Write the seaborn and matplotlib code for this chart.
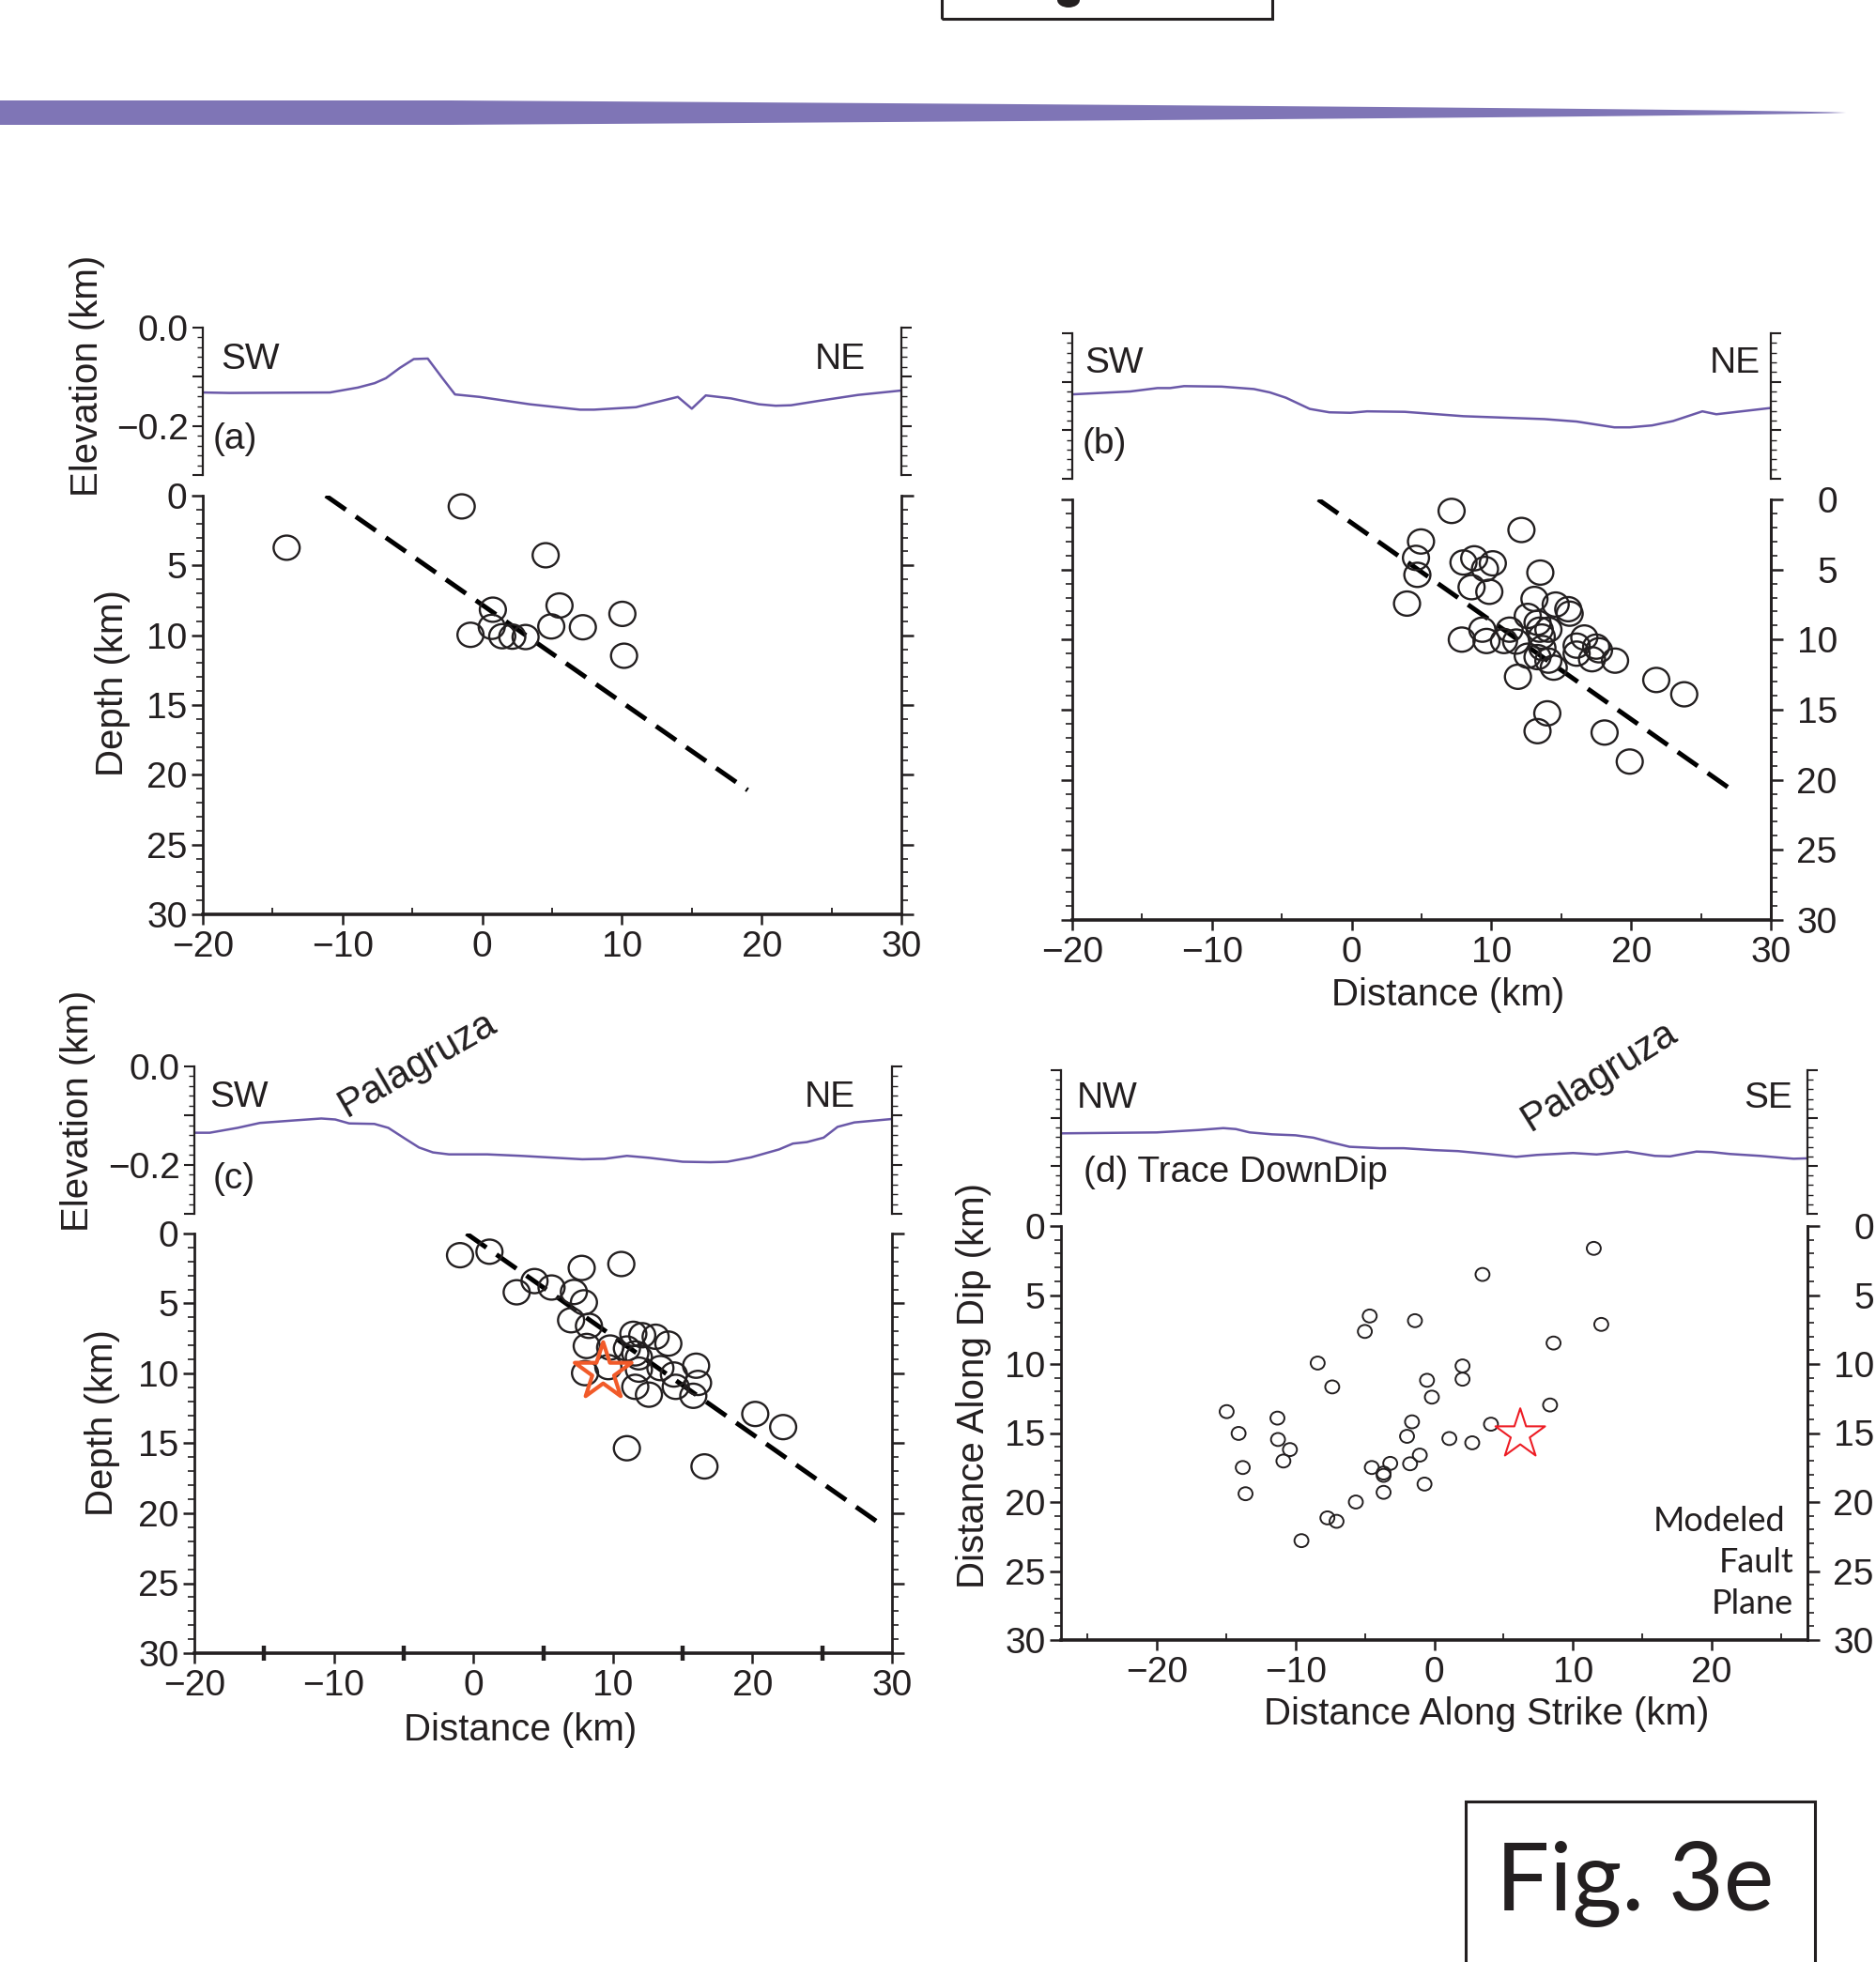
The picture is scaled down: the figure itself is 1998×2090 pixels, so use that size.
import numpy as np
import matplotlib
matplotlib.use("Agg")
import matplotlib.pyplot as plt
import seaborn as sns
from matplotlib.ticker import MultipleLocator, FuncFormatter
from matplotlib.patches import Polygon, Rectangle, Ellipse
from matplotlib.path import Path
from matplotlib.transforms import Affine2D

# ---- topography profiles (distance km, elevation km) ----
ELEV_A_X = [-20, -18.1, -10.9, -8.9, -7.7, -6.9, -5.9, -4.9, -3.9, -2.9, -1.95, -0.2,
            3.4, 7.0, 8.0, 11.0, 14.0, 15.0, 16.0, 17.8, 19.8, 21.0, 22.1, 24.1, 26.9, 30]
ELEV_A_Z = [-0.132, -0.133, -0.132, -0.122, -0.113, -0.103, -0.082, -0.064, -0.063, -0.101,
            -0.136, -0.141, -0.156, -0.167, -0.167, -0.162, -0.141, -0.165, -0.138, -0.144,
            -0.156, -0.159, -0.158, -0.149, -0.137, -0.128]

ELEV_B_X = [-20, -15.85, -13.9, -13.0, -12.0, -9.3, -7.0, -5.85, -4.7, -3.0, -1.6, -0.1,
            1.1, 3.8, 8.0, 13.8, 16.1, 18.8, 19.9, 21.5, 23.0, 25.1, 26.1, 30]
ELEV_B_Z = [-0.126, -0.120, -0.113, -0.113, -0.109, -0.110, -0.115, -0.122, -0.133, -0.156,
            -0.163, -0.164, -0.161, -0.162, -0.171, -0.177, -0.182, -0.194, -0.194, -0.190,
            -0.181, -0.161, -0.167, -0.154]

ELEV_C_X = [-20, -18.9, -16.9, -15.3, -12.9, -10.9, -9.9, -8.9, -7.1, -6.1, -4.9, -3.9, -2.9,
            -1.75, 1.0, 3.4, 7.8, 9.4, 11.0, 12.6, 15.0, 17.0, 18.2, 19.9, 21.9, 22.9, 23.9,
            25.1, 26.1, 27.3, 30]
ELEV_C_Z = [-0.135, -0.135, -0.125, -0.115, -0.110, -0.106, -0.108, -0.116, -0.117, -0.125,
            -0.147, -0.165, -0.175, -0.179, -0.179, -0.182, -0.189, -0.188, -0.182, -0.186,
            -0.194, -0.195, -0.194, -0.185, -0.169, -0.157, -0.154, -0.145, -0.123, -0.114,
            -0.107]

ELEV_D_X = [-27, -20, -17.0, -15.2, -14.3, -13.3, -11.7, -10.0, -8.7, -7.4, -6.1, -3.9, -2.2,
            0, 1.7, 3.9, 5.9, 7.4, 10.0, 11.7, 13.9, 15.9, 17.0, 18.9, 20.0, 21.3, 23.5, 25.9, 27]
ELEV_D_Z = [-0.132, -0.130, -0.125, -0.121, -0.123, -0.130, -0.134, -0.136, -0.141, -0.151,
            -0.160, -0.163, -0.163, -0.167, -0.169, -0.175, -0.181, -0.177, -0.173, -0.176,
            -0.170, -0.179, -0.180, -0.170, -0.171, -0.175, -0.179, -0.185, -0.184]

# ---- hypocentres (distance km, depth km) ----
QUAKE_A_X = [-14.0, -1.47, 4.54, 5.53, 10.03, 4.94, 7.2, 0.76, 0.68, -0.84, 1.43, 2.15, 3.1, 10.15]
QUAKE_A_D = [3.73, 0.77, 4.27, 7.87, 8.47, 9.37, 9.43, 8.17, 9.4, 9.97, 10.07, 10.1, 10.13, 11.47]

QUAKE_B_X = [7.15, 12.15, 4.96, 4.6, 4.7, 3.96, 8.0, 8.77, 9.54, 10.1, 13.5, 8.58, 9.85, 13.08,
             14.6, 15.5, 15.6, 12.6, 13.3, 13.46, 14.08, 9.35, 11.3, 7.88, 9.65, 10.9, 11.77,
             13.6, 13.65, 12.6, 13.3, 14.08, 14.46, 16.65, 16.1, 16.1, 17.5, 17.7, 17.2, 18.85,
             11.9, 21.8, 23.8, 14.0, 13.3, 18.1, 19.9]
QUAKE_B_D = [0.82, 2.18, 3.0, 4.17, 5.38, 7.43, 4.5, 4.2, 4.96, 4.56, 5.22, 6.26, 6.59, 7.1,
             7.5, 7.83, 8.15, 8.31, 8.8, 9.29, 9.29, 9.29, 9.29, 10.0, 10.1, 10.1, 10.14,
             9.78, 10.6, 11.15, 11.25, 11.5, 12.0, 9.85, 10.43, 11.0, 10.5, 10.76, 11.4, 11.5,
             12.65, 12.88, 13.9, 15.26, 16.53, 16.63, 18.7]

QUAKE_C_X = [-0.96, 1.15, 7.76, 10.6, 4.38, 3.1, 5.6, 7.2, 7.92, 7.0, 8.28, 8.12, 9.8, 11.46,
             12.1, 13.06, 13.97, 11.0, 11.6, 11.86, 11.86, 13.4, 15.96, 14.37, 14.5, 16.1,
             15.76, 11.6, 12.58, 8.0, 9.67, 20.2, 22.2, 11.0, 16.56]
QUAKE_C_D = [1.55, 1.3, 2.46, 2.18, 3.4, 4.2, 3.86, 4.18, 4.92, 6.2, 6.6, 8.04, 8.15, 7.17,
             7.27, 7.38, 7.87, 8.22, 8.57, 8.85, 9.73, 9.62, 9.45, 10.08, 10.96, 10.68, 11.6,
             10.96, 11.52, 9.98, 9.55, 12.9, 13.84, 15.35, 16.65]

QUAKE_D_X = [11.5, 3.48, -4.65, -5.0, -1.39, 12.04, 8.6, -8.4, 2.04, 2.04, -0.52, -7.35, -0.17,
             8.35, -14.96, -11.3, -1.6, 4.09, -14.1, -11.26, -1.96, 1.09, 2.74, -10.4, -1.04,
             -10.87, -3.17, -1.74, -13.8, -4.5, -3.65, -3.65, -0.7, -13.6, -3.65, -5.65, -7.7,
             -7.04, -9.57]
QUAKE_D_D = [1.62, 3.51, 6.52, 7.64, 6.86, 7.13, 8.48, 9.93, 10.14, 11.1, 11.18, 11.66, 12.4,
             12.97, 13.45, 13.92, 14.19, 14.36, 15.03, 15.47, 15.24, 15.4, 15.71, 16.2, 16.6,
             17.03, 17.2, 17.23, 17.5, 17.5, 17.9, 18.07, 18.7, 19.4, 19.3, 20.0, 21.15, 21.4,
             22.8]

# mainshock
STAR_C_X, STAR_C_D = [9.3], [9.9]
STAR_D_X, STAR_D_D = [6.2], [15.1]

# modeled fault traces
FAULT_A_X, FAULT_A_D = [-11.2, 19.0], [0.0, 21.1]
FAULT_B_X, FAULT_B_D = [-2.4, 27.6], [0.0, 21.0]
FAULT_C_X, FAULT_C_D = [-0.5, 29.5], [0.0, 21.0]

FIG_W, FIG_H = 1998, 2090
INK = "#231f20"
PURPLE = "#6a58a8"
BANNER = "#7f75b6"
FS = 28

sns.set_theme(style="ticks")
plt.rcParams["font.family"] = ["Liberation Sans", "DejaVu Sans"]
plt.rcParams["axes.unicode_minus"] = True

fig = plt.figure(figsize=(FIG_W / 100, FIG_H / 100), dpi=100)


def frac(l, t, r, b):
    return [l / FIG_W, 1 - b / FIG_H, (r - l) / FIG_W, (b - t) / FIG_H]


def fpt(x, y):
    return x / FIG_W, 1 - y / FIG_H


def elev_fmt(v, pos):
    if abs(v) < 1e-9:
        return "0.0"
    if abs(v + 0.2) < 1e-9:
        return "\u22120.2"
    return ""


def style_elev(ax, xlim, labels):
    ax.set_xlim(*xlim)
    ax.set_ylim(-0.3, 0.0)
    ax.set_xlabel("")
    ax.set_ylabel("")
    ax.spines["top"].set_visible(False)
    ax.spines["bottom"].set_visible(False)
    for s in ("left", "right"):
        ax.spines[s].set_linewidth(1.6)
        ax.spines[s].set_color(INK)
    ax.yaxis.set_major_locator(MultipleLocator(0.1))
    ax.yaxis.set_minor_locator(MultipleLocator(0.02))
    ax.yaxis.set_major_formatter(FuncFormatter(elev_fmt))
    ax.tick_params(axis="x", which="both", bottom=False, labelbottom=False)
    ax.tick_params(axis="y", which="both", left=True, right=True, direction="out",
                   colors=INK, labelleft=labels, labelright=False, labelsize=FS, pad=3)
    ax.tick_params(axis="y", which="major", length=8, width=1.5)
    ax.tick_params(axis="y", which="minor", length=4.5, width=1.0)


def style_depth(ax, xlim, left_lab, right_lab, minor_dir="in", minor_len=5, minor_w=1.3):
    ax.set_xlim(*xlim)
    ax.set_ylim(30, 0)
    ax.set_xlabel("")
    ax.set_ylabel("")
    ax.spines["top"].set_visible(False)
    for s in ("left", "right"):
        ax.spines[s].set_linewidth(2.0)
        ax.spines[s].set_color(INK)
    ax.spines["bottom"].set_linewidth(2.6)
    ax.spines["bottom"].set_color(INK)
    ax.xaxis.set_major_locator(MultipleLocator(10))
    ax.xaxis.set_minor_locator(MultipleLocator(5))
    ax.yaxis.set_major_locator(MultipleLocator(5))
    ax.yaxis.set_minor_locator(MultipleLocator(1))
    ax.tick_params(axis="y", which="both", left=True, right=not right_lab, direction="out",
                   colors=INK, labelleft=left_lab, labelright=False, labelsize=FS, pad=3)
    ax.tick_params(axis="y", which="major", length=9, width=1.8)
    ax.tick_params(axis="y", which="minor", length=5, width=1.2)
    ax.tick_params(axis="x", which="major", bottom=True, top=False, direction="out",
                   length=8, width=1.8, colors=INK, labelsize=FS, pad=4)
    ax.tick_params(axis="x", which="minor", bottom=True, top=False, direction=minor_dir,
                   length=minor_len, width=minor_w, colors=INK)
    if right_lab:
        # right-hand depth scale with right-justified numbers
        sec = ax.secondary_yaxis("right")
        sec.spines["right"].set_linewidth(2.0)
        sec.spines["right"].set_color(INK)
        sec.yaxis.set_major_locator(MultipleLocator(5))
        sec.yaxis.set_minor_locator(MultipleLocator(1))
        sec.tick_params(axis="y", which="both", direction="out", colors=INK,
                        labelsize=FS)
        sec.tick_params(axis="y", which="major", length=9, width=1.8, pad=42)
        sec.tick_params(axis="y", which="minor", length=5, width=1.2)
        for tk in sec.yaxis.get_major_ticks():
            tk.label2.set_horizontalalignment("right")
            tk.label1.set_horizontalalignment("right")


ELLIPSE = Path.unit_circle().transformed(Affine2D().scale(1.0, 0.93))


def profile(ax, xs, zs):
    sns.lineplot(x=xs, y=zs, ax=ax, color=PURPLE, linewidth=1.8, estimator=None, sort=False)


def quakes(ax, xs, ds, size, lw):
    sns.scatterplot(x=xs, y=ds, ax=ax, marker=ELLIPSE, s=size, facecolor="none",
                    edgecolor=INK, linewidth=lw, zorder=3, legend=False, clip_on=False)


def star(ax, xs, ds, size, lw, color):
    sns.scatterplot(x=xs, y=ds, ax=ax, marker="*", s=size, facecolor="none",
                    edgecolor=color, linewidth=lw, zorder=4, legend=False)


def fault(ax, xs, ds):
    ax.plot(xs, ds, color="black", linewidth=3.6, dashes=(5.2, 2.6), zorder=2)


def lab(ax, x, y, s, ha="left", **kw):
    ax.text(x, y, s, ha=ha, va="center", fontsize=FS, color=INK, **kw)


# ---------------- panel (a) ----------------
ax = fig.add_axes(frac(216, 349, 960, 506))
profile(ax, ELEV_A_X, ELEV_A_Z)
style_elev(ax, (-20, 30), True)
lab(ax, -18.7, -0.065, "SW")
lab(ax, 27.45, -0.065, "NE", ha="right")
lab(ax, -19.3, -0.227, "(a)")

ax = fig.add_axes(frac(216, 528, 960, 974))
fault(ax, FAULT_A_X, FAULT_A_D)
quakes(ax, QUAKE_A_X, QUAKE_A_D, 400, 1.7)
style_depth(ax, (-20, 30), True, False)

# ---------------- panel (b) ----------------
ax = fig.add_axes(frac(1142, 355, 1886, 510))
profile(ax, ELEV_B_X, ELEV_B_Z)
style_elev(ax, (-20, 30), False)
lab(ax, -19.1, -0.062, "SW")
lab(ax, 29.25, -0.062, "NE", ha="right")
lab(ax, -19.3, -0.228, "(b)")

ax = fig.add_axes(frac(1142, 532, 1886, 980))
fault(ax, FAULT_B_X, FAULT_B_D)
quakes(ax, QUAKE_B_X, QUAKE_B_D, 400, 1.7)
style_depth(ax, (-20, 30), False, True)

# ---------------- panel (c) ----------------
ax = fig.add_axes(frac(207, 1136, 950, 1293))
profile(ax, ELEV_C_X, ELEV_C_Z)
style_elev(ax, (-20, 30), True)
lab(ax, -18.9, -0.063, "SW")
lab(ax, 27.4, -0.063, "NE", ha="right")
lab(ax, -18.7, -0.229, "(c)")
ax.text(-9.1, -0.103, "Palagruza", fontsize=30, color=INK, rotation=30,
        rotation_mode="anchor", ha="left", va="baseline", clip_on=False)

ax = fig.add_axes(frac(207, 1314, 950, 1761))
fault(ax, FAULT_C_X, FAULT_C_D)
quakes(ax, QUAKE_C_X, QUAKE_C_D, 400, 1.7)
star(ax, STAR_C_X, STAR_C_D, 2100, 3.0, "#f15a29")
style_depth(ax, (-20, 30), True, False, minor_dir="inout", minor_len=12, minor_w=3.2)

# ---------------- panel (d) ----------------
ax = fig.add_axes(frac(1130, 1140, 1925, 1293))
profile(ax, ELEV_D_X, ELEV_D_Z)
style_elev(ax, (-26.9, 26.9), False)
lab(ax, -25.8, -0.059, "NW")
lab(ax, 25.8, -0.059, "SE", ha="right")
lab(ax, -25.3, -0.214, "(d) Trace DownDip")
ax.text(6.9, -0.129, "Palagruza", fontsize=30, color=INK, rotation=32,
        rotation_mode="anchor", ha="left", va="baseline", clip_on=False)

ax = fig.add_axes(frac(1130, 1306, 1925, 1747))
quakes(ax, QUAKE_D_X, QUAKE_D_D, 115, 1.4)
star(ax, STAR_D_X, STAR_D_D, 1600, 1.5, "#ed1c24")
style_depth(ax, (-26.9, 26.9), True, True)
for txt, xx, dd in (("Modeled", 25.3, 21.4), ("Fault", 25.9, 24.4), ("Plane", 25.9, 27.4)):
    ax.text(xx, dd, txt, ha="right", va="center", fontsize=26, color=INK,
            family=["Lato", "DejaVu Sans"])

# ---------------- axis titles ----------------
def ftext(x, y, s, rot=0):
    fx, fy = fpt(x, y)
    fig.text(fx, fy, s, ha="center", va="center", rotation=rot, fontsize=29, color=INK)

ftext(93, 400, "Elevation (km)", 90)
ftext(120, 728, "Depth (km)", 90)
ftext(83, 1183, "Elevation (km)", 90)
ftext(109, 1516, "Depth (km)", 90)
ftext(1037, 1476, "Distance Along Dip (km)", 90)
ftext(1542, 1060, "Distance (km)")
ftext(554, 1843, "Distance (km)")
ftext(1583, 1826, "Distance Along Strike (km)")

# ---------------- page decoration ----------------
bx = np.linspace(478, 1966, 80)
t = (bx - 478) / (1966 - 478)
half = 13 * (1 - t) ** 0.7
px = np.concatenate([[0], bx, bx[::-1], [0]])
py = np.concatenate([[107], 120 - half, (120 + half)[::-1], [133]])
fig.add_artist(Polygon(np.column_stack([px / FIG_W, 1 - py / FIG_H]), closed=True,
                       facecolor=BANNER, edgecolor="none", transform=fig.transFigure))

# box of the previous page's figure tag, with the tail of its lettering
fig.add_artist(Rectangle(fpt(1003, 20), 352 / FIG_W, 60 / FIG_H, fill=False,
                         edgecolor=INK, linewidth=2.2, transform=fig.transFigure))
fig.add_artist(Ellipse(fpt(1138, 0), 24 / FIG_W, 16 / FIG_H, facecolor=INK,
                       edgecolor="none", transform=fig.transFigure))

fig.add_artist(Rectangle(fpt(1561, 2140), 372 / FIG_W, 221 / FIG_H, fill=False,
                         edgecolor=INK, linewidth=2.2, transform=fig.transFigure))
fig.text(*fpt(1593, 2035), "Fig. 3e", fontsize=73, color=INK, ha="left", va="baseline",
         family=["Lato", "DejaVu Sans"])

fig.savefig("out.png", dpi=100)
